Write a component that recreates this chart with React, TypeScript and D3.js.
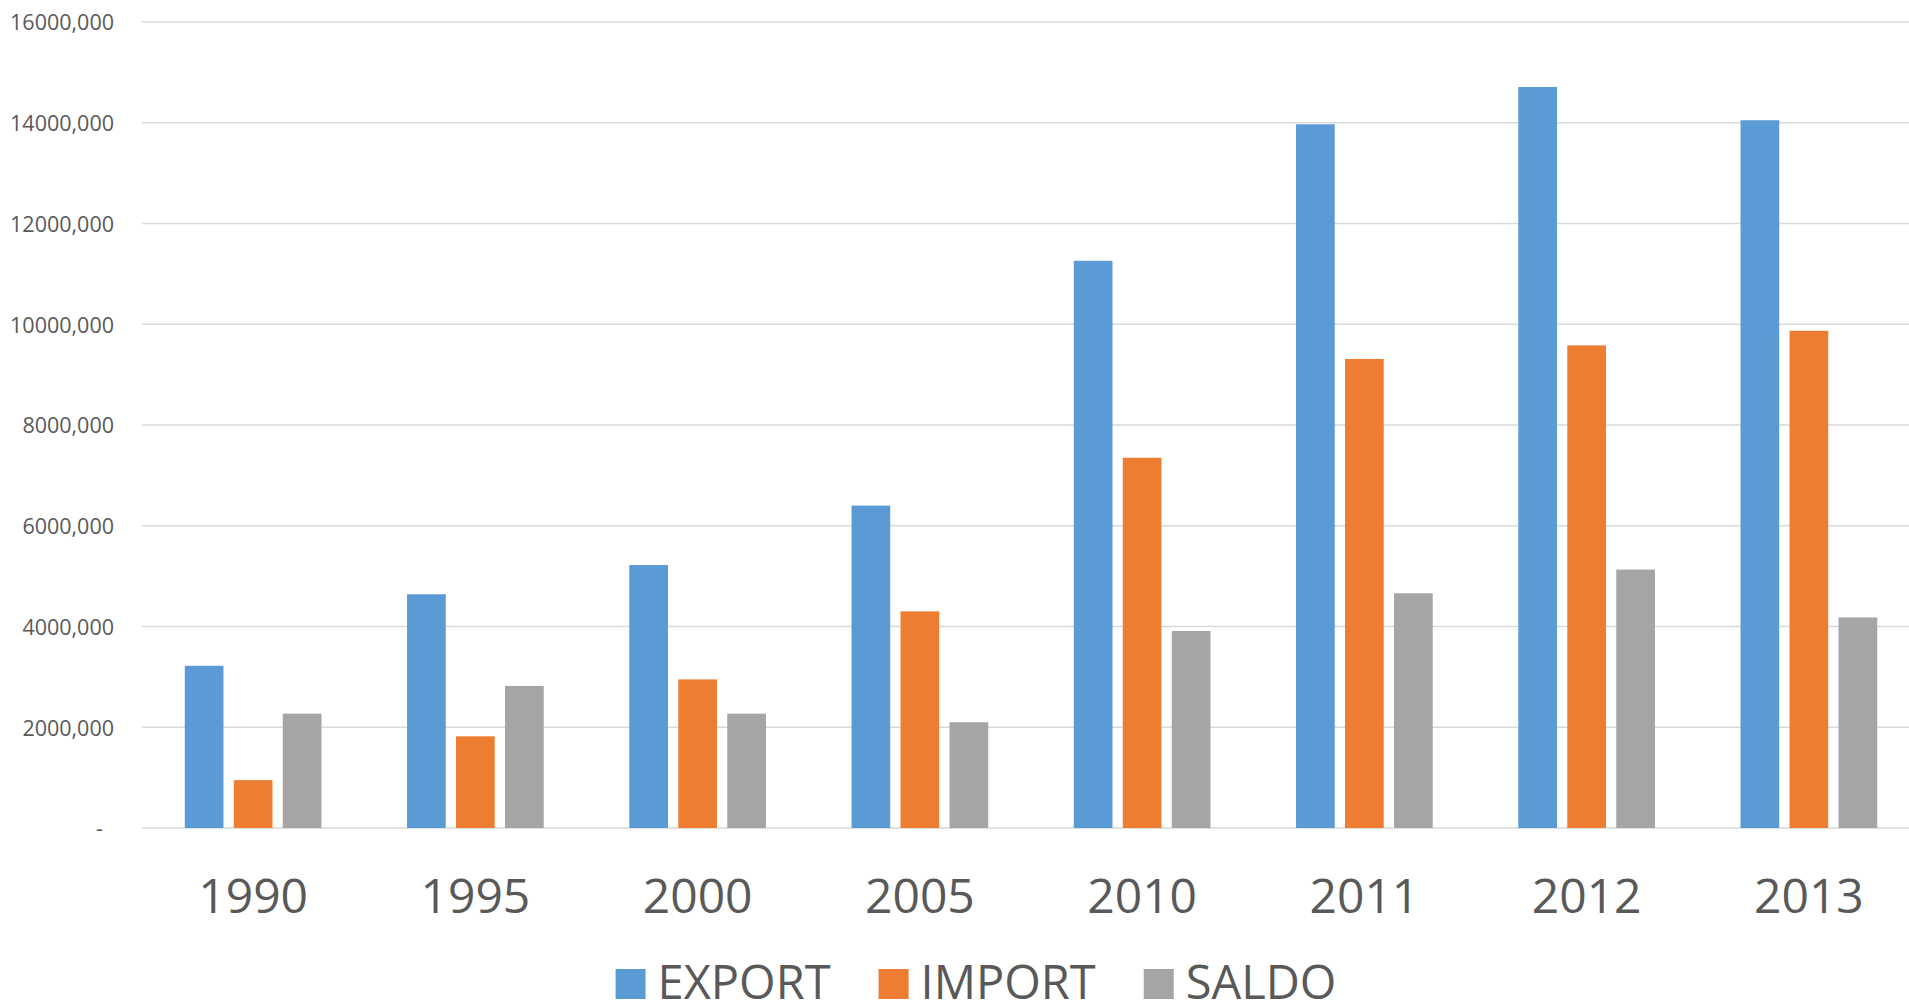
import { useEffect, useRef, useCallback } from 'react';
import * as d3 from 'd3';

const years = ['1990', '1995', '2000', '2005', '2010', '2011', '2012', '2013'];
const seriesNames = ['EXPORT', 'IMPORT', 'SALDO'];
const exportValues = [3220000, 4640000, 5220000, 6400000, 11260000, 13970000, 14710000, 14050000];
const importValues = [950000, 1820000, 2950000, 4300000, 7350000, 9310000, 9580000, 9870000];
const saldoValues = [2270000, 2820000, 2270000, 2100000, 3910000, 4660000, 5130000, 4180000];
const yTicks = [0, 2000000, 4000000, 6000000, 8000000, 10000000, 12000000, 14000000, 16000000];
const yTickLabels = ['-', '2000,000', '4000,000', '6000,000', '8000,000', '10000,000', '12000,000', '14000,000', '16000,000'];
const colors = ['#5B9BD5', '#ED7D31', '#A5A5A5'];

const WIDTH = 1909;
const HEIGHT = 1003;
const FONT = '"Open Sans", "Noto Sans", sans-serif';
const TEXT = '#595959';
const GRID = '#D9D9D9';

export default function App() {
  const svgRef = useRef<SVGSVGElement>(null);

  const drawChart = useCallback(() => {
    if (!svgRef.current) return;
    const svg = d3.select(svgRef.current);
    svg.selectAll('*').remove();

    const plotLeft = 142;
    const plotRight = 1920; // chart runs past the right edge of the picture
    const plotTop = 22;
    const plotBottom = 828;

    const x0 = d3
      .scaleBand<string>()
      .domain(years)
      .range([plotLeft, plotRight])
      .paddingInner(0.385)
      .paddingOuter(0.1925);

    const x1 = d3
      .scaleBand<string>()
      .domain(seriesNames)
      .range([0, x0.bandwidth()])
      .paddingInner(0.21);

    const y = d3.scaleLinear().domain([0, 16000000]).range([plotBottom, plotTop]);

    const series = [exportValues, importValues, saldoValues];

    // Gridlines
    svg
      .append('g')
      .selectAll('line')
      .data(yTicks)
      .enter()
      .append('line')
      .attr('x1', plotLeft)
      .attr('x2', plotRight)
      .attr('y1', (d) => y(d))
      .attr('y2', (d) => y(d))
      .attr('stroke', GRID)
      .attr('stroke-width', 1.6);

    // Bars
    const groups = svg
      .append('g')
      .selectAll('g')
      .data(years)
      .enter()
      .append('g')
      .attr('transform', (d) => `translate(${x0(d)},0)`);

    groups
      .selectAll('rect')
      .data((_, i) => seriesNames.map((name, s) => ({ name, value: series[s][i], color: colors[s] })))
      .enter()
      .append('rect')
      .attr('x', (d) => x1(d.name) ?? 0)
      .attr('width', x1.bandwidth())
      .attr('y', (d) => y(d.value))
      .attr('height', (d) => y(0) - y(d.value))
      .attr('fill', (d) => d.color);

    // Y axis labels
    const yAxis = svg
      .append('g')
      .attr('transform', `translate(${plotLeft},0)`)
      .call(
        d3
          .axisLeft(y)
          .tickValues(yTicks)
          .tickSize(0)
          .tickPadding(28)
          .tickFormat((_, i) => yTickLabels[i])
      );
    yAxis.select('.domain').remove();
    yAxis
      .selectAll('text')
      .attr('font-family', FONT)
      .attr('font-size', '21.5px')
      .attr('fill', TEXT)
      .attr('dy', '0.36em')
      .attr('dx', (d) => (d === 0 ? -11 : 0));

    // X axis labels
    const xAxis = svg
      .append('g')
      .attr('transform', `translate(0,${plotBottom})`)
      .call(d3.axisBottom(x0).tickSize(0));
    xAxis.select('.domain').remove();
    xAxis
      .selectAll('text')
      .attr('font-family', FONT)
      .attr('font-size', '48px')
      .attr('fill', TEXT)
      .attr('y', 85)
      .attr('dy', 0);

    // Legend
    const legendCenter = 976;
    const legendBaseline = 999;
    const sq = 30;
    const textGap = 12;
    const itemGap = 48;
    const legend = svg.append('g');
    const items = seriesNames.map((name, i) => {
      const g = legend.append('g');
      g.append('rect').attr('width', sq).attr('height', sq).attr('y', 969).attr('fill', colors[i]);
      const t = g
        .append('text')
        .attr('x', sq + textGap)
        .attr('y', legendBaseline)
        .attr('font-family', FONT)
        .attr('font-size', '47px')
        .attr('fill', TEXT)
        .text(name);
      const w = sq + textGap + (t.node() as SVGTextElement).getComputedTextLength();
      return { g, w };
    });
    const total = d3.sum(items, (d) => d.w) + itemGap * (items.length - 1);
    let cx = legendCenter - total / 2;
    items.forEach((it) => {
      it.g.attr('transform', `translate(${cx},0)`);
      cx += it.w + itemGap;
    });
  }, []);

  useEffect(() => {
    drawChart();
  }, [drawChart]);

  return (
    <svg
      ref={svgRef}
      width={WIDTH}
      height={HEIGHT}
      style={{ position: 'absolute', top: 0, left: 0, display: 'block', background: '#fff' }}
    />
  );
}
